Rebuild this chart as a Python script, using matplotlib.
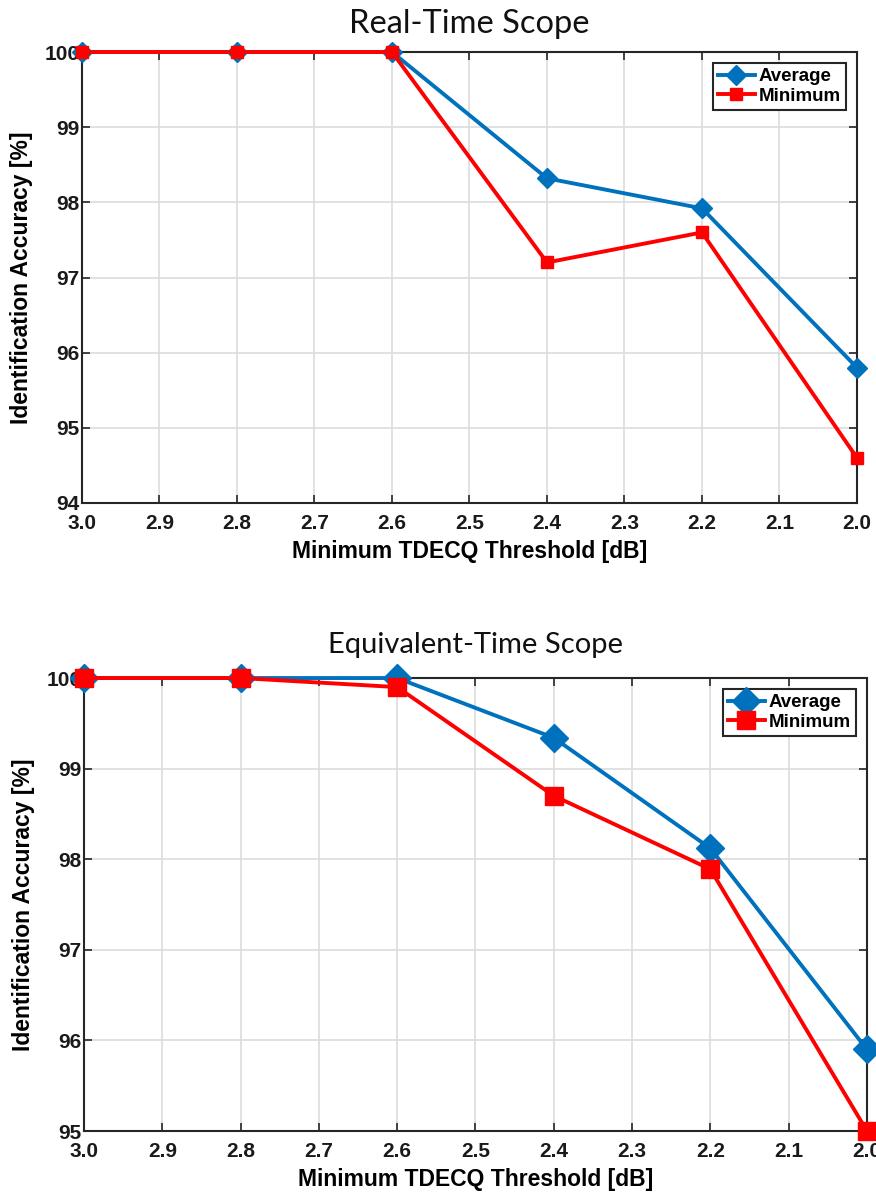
import numpy as np
import matplotlib.pyplot as plt

thresholds = [3.0, 2.8, 2.6, 2.4, 2.2, 2.0]

rt_average = [100.0, 100.0, 100.0, 98.32, 97.92, 95.80]
rt_minimum = [100.0, 100.0, 100.0, 97.20, 97.60, 94.60]

et_average = [100.0, 100.0, 100.0, 99.34, 98.12, 95.90]
et_minimum = [100.0, 100.0, 99.90, 98.70, 97.89, 95.00]

xticks = [3.0, 2.9, 2.8, 2.7, 2.6, 2.5, 2.4, 2.3, 2.2, 2.1, 2.0]

BLUE = '#0072BD'
RED = '#FF0000'

plt.rcParams['font.family'] = ['Liberation Sans', 'DejaVu Sans']

fig = plt.figure(figsize=(8.76, 11.99), dpi=100)


def style_axes(ax, ylim, yticks):
    ax.set_xlim(3.0, 2.0)
    ax.set_ylim(*ylim)
    ax.set_xticks(xticks)
    ax.set_xticklabels([f'{t:.1f}' for t in xticks])
    ax.set_yticks(yticks)
    ax.set_yticklabels([str(t) for t in yticks])
    ax.tick_params(direction='in', top=True, right=True, length=6,
                   width=1.2, color='#262626', labelsize=15,
                   labelcolor='#1a1a1a')
    ax.tick_params(axis='x', pad=8)
    ax.tick_params(axis='y', pad=2)
    for lbl in ax.get_xticklabels() + ax.get_yticklabels():
        lbl.set_fontweight('bold')
    ax.grid(True, color='#dcdcdc', linewidth=1.2)
    ax.set_axisbelow(True)
    for sp in ax.spines.values():
        sp.set_color('#262626')
        sp.set_linewidth(1.5)
    ax.set_xlabel('Minimum TDECQ Threshold [dB]', fontsize=16.5,
                  fontweight='bold', labelpad=5)
    ax.set_ylabel('Identification Accuracy [%]', fontsize=16.5,
                  fontweight='bold', labelpad=8)


def add_legend(ax):
    leg = ax.legend(loc='upper right', fancybox=False, framealpha=1,
                    edgecolor='#262626', prop={'weight': 'bold', 'size': 13.5},
                    handlelength=2.0, borderpad=0.25, labelspacing=0.15,
                    handletextpad=0.2, borderaxespad=0.6)
    leg.get_frame().set_linewidth(1.5)


# top: real-time scope
ax1 = fig.add_axes([0.0936, 0.5805, 0.8847, 0.3761])
ax1.plot(thresholds, rt_average, color=BLUE, marker='D', markersize=10,
         linewidth=2.8, label='Average', clip_on=False, zorder=3)
ax1.plot(thresholds, rt_minimum, color=RED, marker='s', markersize=9,
         linewidth=2.8, label='Minimum', clip_on=False, zorder=4)
style_axes(ax1, (94, 100), [94, 95, 96, 97, 98, 99, 100])
ax1.set_title('Real-Time Scope', fontsize=23.5, family=['Lato', 'DejaVu Sans'],
              pad=14, color='#111111')
add_legend(ax1)

# bottom: equivalent-time scope
ax2 = fig.add_axes([0.0959, 0.0567, 0.8938, 0.3778])
ax2.plot(thresholds, et_average, color=BLUE, marker='D', markersize=14,
         linewidth=2.8, label='Average', clip_on=False, zorder=3)
ax2.plot(thresholds, et_minimum, color=RED, marker='s', markersize=13,
         linewidth=2.8, label='Minimum', clip_on=False, zorder=4)
style_axes(ax2, (95, 100), [95, 96, 97, 98, 99, 100])
ax2.set_title('Equivalent-Time Scope', fontsize=21,
              family=['Lato', 'DejaVu Sans'], pad=18, color='#111111')
add_legend(ax2)

fig.savefig('out.png', dpi=100)
